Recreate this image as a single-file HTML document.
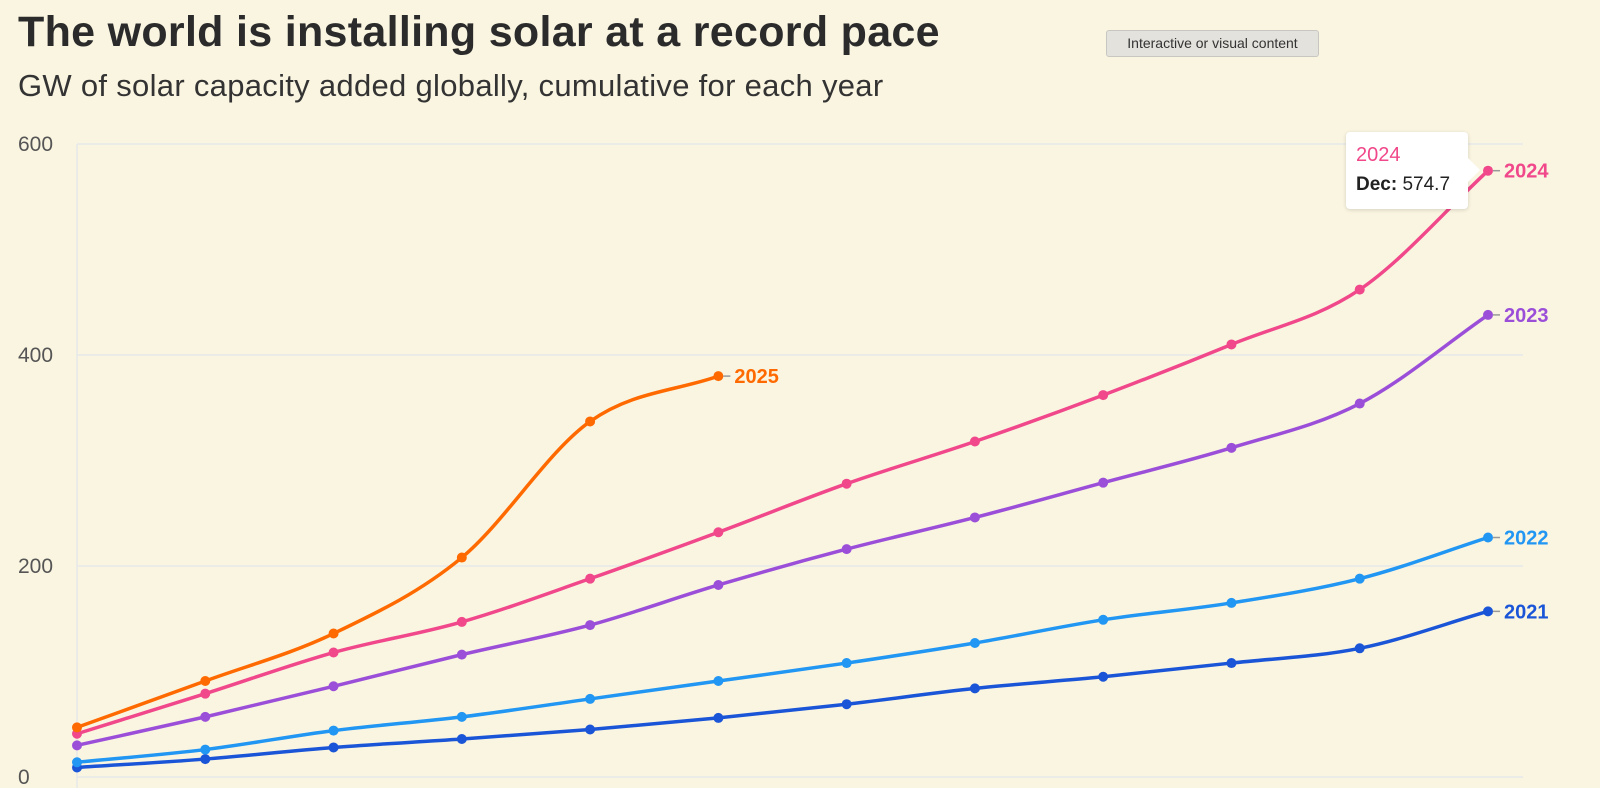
<!DOCTYPE html>
<html><head><meta charset="utf-8"><style>
body{margin:0;background:#faf5e1;font-family:"Liberation Sans",sans-serif;width:1600px;height:788px;overflow:hidden;position:relative}
#title{position:absolute;left:18px;top:8px;font-size:43px;font-weight:bold;color:#2b2b2b;letter-spacing:0.3px}
#sub{position:absolute;left:18px;top:68px;font-size:31px;color:#333;letter-spacing:0.3px}
#badge{position:absolute;left:1106px;top:30px;width:211px;height:25px;background:#e4e2dc;border:1px solid #c8c6c0;border-radius:3px;font-size:14px;color:#333;text-align:center;line-height:25px}
#tip{position:absolute;left:1346px;top:132px;width:122px;height:77px;background:#fff;border-radius:4px;box-shadow:0 1px 4px rgba(0,0,0,.15)}
#tip:after{content:"";position:absolute;right:-12px;top:26px;border-left:12px solid #fff;border-top:12px solid transparent;border-bottom:12px solid transparent}
</style></head><body>
<div id="title">The world is installing solar at a record pace</div>
<div id="sub">GW of solar capacity added globally, cumulative for each year</div>
<div id="badge">Interactive or visual content</div>
<svg id="chart" width="1600" height="788" style="position:absolute;left:0;top:0"></svg>
<div id="tip">
<div style="position:absolute;left:10px;top:12px;font-size:20px;color:#f0488a">2024</div>
<div style="position:absolute;left:10px;top:42px;font-size:19px;color:#222"><b>Dec:</b> 574.7</div>
</div>
<script>
const months=["Jan","Feb","Mar","Apr","May","Jun","Jul","Aug","Sep","Oct","Nov","Dec"];
const yTicks=[0,200,400,600];
const seriesNames=["2021","2022","2023","2024","2025"];
const colors=["#1a55d8","#2196f3","#9b4fd9","#f0488a","#ff6a00"];
const v2021=[9,17,28,36,45,56,69,84,95,108,122,157];
const v2022=[14,26,44,57,74,91,108,127,149,165,188,227];
const v2023=[30,57,86,116,144,182,216,246,279,312,354,438];
const v2024=[41,79,118,147,188,232,278,318,362,410,462,574.7];
const v2025=[47,91,136,208,337,380];
const allVals=[v2021,v2022,v2023,v2024,v2025];
const svg=document.getElementById('chart');const NS="http://www.w3.org/2000/svg";
const x=i=>77+i*(1488-77)/11;
const y=v=>777-v*(777-144)/600;
function mk(t,a){const e=document.createElementNS(NS,t);for(const k in a)e.setAttribute(k,a[k]);svg.appendChild(e);return e;}
yTicks.forEach(t=>{
 const g=mk('line',{x1:77,x2:1523,y1:y(t),y2:y(t),stroke:'#e6e8ea','stroke-width':1.5});
 
 
 const l=mk('text',{x:18,y:y(t)+7,'font-size':21,fill:'#555','font-family':'Liberation Sans, sans-serif'});
 l.textContent=t;
 
 
});
const ax=mk('line',{x1:77,x2:77,y1:144,y2:788,stroke:'#e6e8ea','stroke-width':1.5});


function mono(pts){const n=pts.length;const d=[],m=[];for(let i=0;i<n-1;i++)d.push((pts[i+1][1]-pts[i][1])/(pts[i+1][0]-pts[i][0]));
 for(let i=0;i<n;i++){if(i==0)m.push(d[0]);else if(i==n-1)m.push(d[n-2]);else m.push(d[i-1]*d[i]<=0?0:(d[i-1]+d[i])/2);}
 for(let i=0;i<n-1;i++){if(d[i]==0){m[i]=m[i+1]=0;continue;}const a=m[i]/d[i],b=m[i+1]/d[i],s=a*a+b*b;if(s>9){const t=3/Math.sqrt(s);m[i]=t*a*d[i];m[i+1]=t*b*d[i];}}
 let p="M"+pts[0][0]+","+pts[0][1];for(let i=0;i<n-1;i++){const h=(pts[i+1][0]-pts[i][0])/3;p+=` C${pts[i][0]+h},${pts[i][1]+m[i]*h} ${pts[i+1][0]-h},${pts[i+1][1]-m[i+1]*h} ${pts[i+1][0]},${pts[i+1][1]}`;}return p;}
allVals.forEach((vals,s)=>{
 const pts=vals.map((v,i)=>[x(i),y(v)]);
 const p=mk('path',{d:mono(pts),fill:'none',stroke:colors[s],'stroke-width':3.5});
 
 
 pts.forEach((q,i)=>{const c=mk('circle',{cx:q[0],cy:q[1],r:5,fill:colors[s]});
  
  });
 const last=pts[pts.length-1];
 mk('line',{x1:last[0]+5,x2:last[0]+12,y1:last[1],y2:last[1],stroke:'#999','stroke-width':1.5});
 const t=mk('text',{x:last[0]+16,y:last[1]+7,'font-size':20,'font-weight':'bold',fill:colors[s],'font-family':'Liberation Sans, sans-serif'});
 t.textContent=seriesNames[s];
 
 
});
</script>
</body></html>
